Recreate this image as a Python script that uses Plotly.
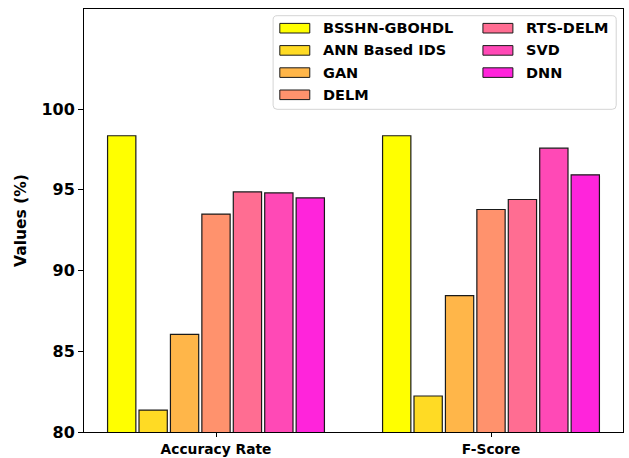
import plotly.graph_objects as go

# Metrics and methods
categories = ["Accuracy Rate", "F-Score"]
methods = ["BSSHN-GBOHDL", "ANN Based IDS", "GAN", "DELM", "RTS-DELM", "SVD", "DNN"]
accuracy = [98.35, 81.36, 86.05, 93.5, 94.87, 94.81, 94.5]
f_score = [98.35, 82.23, 88.45, 93.78, 94.4, 97.58, 95.93]
colors = ["#ffff00", "#ffdb24", "#ffb649", "#ff926d", "#ff6d92", "#ff49b6", "#ff24db"]
y_ticks = [80, 85, 90, 95, 100]

W, H = 629, 458
PL, PR, PT, PB = 84, 623.5, 9, 432  # plot-area edges in pixels
FONT = "DejaVu Sans"

def px(x):
    return (x - PL) / (PR - PL)

def py(y):
    return (PB - y) / (PB - PT)

fig = go.Figure()
for name, a, f, c in zip(methods, accuracy, f_score, colors):
    fig.add_trace(go.Bar(
        name=name, x=categories, y=[a, f],
        marker=dict(color=c, line=dict(color="#1a1a1a", width=1.2)),
        showlegend=False,
    ))

# Two-column legend panel built from the series names/colours
shapes = []
annotations = []
r = 4
x0, x1, y0, y1 = 273.3, 616.7, 15.7, 109.3
path = (f"M {px(x0 + r)},{py(y0)} L {px(x1 - r)},{py(y0)} "
        f"Q {px(x1)},{py(y0)} {px(x1)},{py(y0 + r)} L {px(x1)},{py(y1 - r)} "
        f"Q {px(x1)},{py(y1)} {px(x1 - r)},{py(y1)} L {px(x0 + r)},{py(y1)} "
        f"Q {px(x0)},{py(y1)} {px(x0)},{py(y1 - r)} L {px(x0)},{py(y0 + r)} "
        f"Q {px(x0)},{py(y0)} {px(x0 + r)},{py(y0)} Z")
shapes.append(dict(type="path", path=path, xref="paper", yref="paper",
                   line=dict(color="#d4d4d4", width=1), fillcolor="white", layer="above"))

col_x = [280.0, 483.3]
row_y0, row_step = 28.2, 22.2
for i, (name, c) in enumerate(zip(methods, colors)):
    col = 0 if i < 4 else 1
    row = i if i < 4 else i - 4
    cy = row_y0 + row * row_step
    sx = col_x[col]
    shapes.append(dict(type="rect", xref="paper", yref="paper",
                       x0=px(sx), x1=px(sx + 30), y0=py(cy - 4.8), y1=py(cy + 4.8),
                       fillcolor=c, line=dict(color="#1a1a1a", width=1), layer="above"))
    annotations.append(dict(text=name, xref="paper", yref="paper",
                            x=px(sx + 41.5), y=py(cy), xanchor="left", yanchor="middle",
                            showarrow=False,
                            font=dict(family=FONT, size=14.5, color="black", weight="bold")))

fig.update_layout(
    width=W, height=H,
    margin=dict(l=PL, r=W - PR, t=PT, b=H - PB),
    paper_bgcolor="white", plot_bgcolor="white",
    barmode="group", bargap=0.2, bargroupgap=0.1,
    shapes=shapes, annotations=annotations,
    xaxis=dict(
        range=[-0.48, 1.48], showline=True, mirror=True, linecolor="black", linewidth=1,
        ticks="outside", ticklen=4, tickcolor="black", showgrid=False, automargin=False,
        tickfont=dict(family=FONT, size=13.8, color="black", weight="bold"),
    ),
    yaxis=dict(
        range=[80, 106.2], tickvals=y_ticks, showline=True, mirror=True,
        linecolor="black", linewidth=1, ticks="outside", ticklen=5, tickcolor="black",
        showgrid=False, zeroline=False, automargin=False,
        tickfont=dict(family=FONT, size=16, color="black", weight="bold"),
        title=dict(text="Values (%)", standoff=10,
                   font=dict(family=FONT, size=15.5, color="black", weight="bold")),
    ),
)

fig.write_html("out.html")
